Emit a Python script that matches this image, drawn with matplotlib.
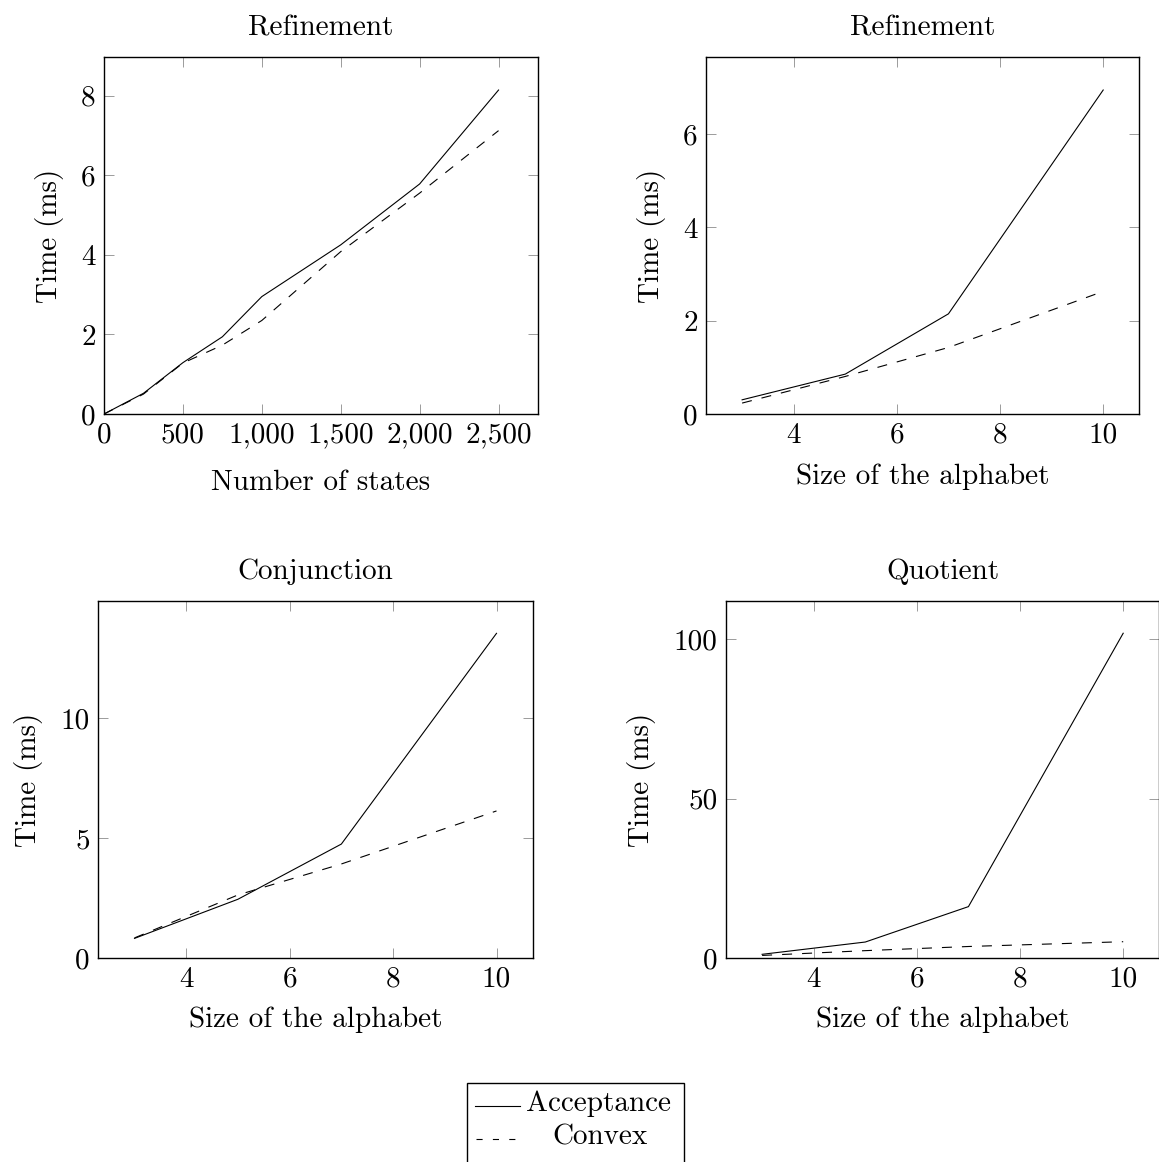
import matplotlib
matplotlib.use("Agg")
import matplotlib.pyplot as plt
from matplotlib.lines import Line2D
from matplotlib.patches import Rectangle

# ---- data ----
states = [0, 250, 500, 750, 1000, 1500, 2000, 2500]
ref_states_accept = [0, 0.52, 1.29, 1.94, 2.95, 4.25, 5.78, 8.14]
ref_states_convex = [0, 0.50, 1.28, 1.73, 2.35, 4.08, 5.55, 7.12]

alphabet = [3, 5, 7, 10]
ref_alpha_accept = [0.31, 0.86, 2.15, 6.94]
ref_alpha_convex = [0.24, 0.81, 1.43, 2.63]
conj_accept = [0.83, 2.46, 4.76, 13.54]
conj_convex = [0.85, 2.64, 3.93, 6.14]
quot_accept = [1.25, 5.1, 16.2, 101.9]
quot_convex = [0.9, 2.4, 3.7, 5.2]

titles = ["Refinement", "Refinement", "Conjunction", "Quotient"]
xlabels = ["Number of states", "Size of the alphabet", "Size of the alphabet", "Size of the alphabet"]
ylabel = "Time (ms)"
states_ticks = [0, 500, 1000, 1500, 2000, 2500]
states_ticklabels = ["0", "500", "1,000", "1,500", "2,000", "2,500"]
alpha_ticks = [4, 6, 8, 10]
legend_labels = ["Acceptance", "Convex"]

plt.rcParams["font.family"] = ["cmr10", "DejaVu Serif"]
plt.rcParams["axes.formatter.use_mathtext"] = True
plt.rcParams["lines.scale_dashes"] = False
FS = 21

W, H = 1159, 1162
fig = plt.figure(figsize=(W / 100, H / 100), dpi=100)


def px_rect(left, right, top, bottom):
    return [left / W, 1 - bottom / H, (right - left) / W, (bottom - top) / H]


axes = [
    fig.add_axes(px_rect(104, 538, 57, 414)),
    fig.add_axes(px_rect(706, 1139.3, 57.3, 414.3)),
    fig.add_axes(px_rect(98.3, 532.7, 600.7, 958.3)),
    fig.add_axes(px_rect(726, 1159.3, 600.7, 958.3)),
]

series = [
    (states, ref_states_accept, ref_states_convex),
    (alphabet, ref_alpha_accept, ref_alpha_convex),
    (alphabet, conj_accept, conj_convex),
    (alphabet, quot_accept, quot_convex),
]
ylims = [(0, 8.97), (0, 7.64), (0, 14.9), (0, 112.1)]
yticks = [[0, 2, 4, 6, 8], [0, 2, 4, 6], [0, 5, 10], [0, 50, 100]]
xlabelpads = [15, 10.5, 10, 10]

dash = (0, (7.2, 7.2))

for i, ax in enumerate(axes):
    xs, acc, conv = series[i]
    ax.plot(xs, acc, color="black", lw=0.8, solid_joinstyle="miter")
    ax.plot(xs, conv, color="black", lw=0.8, linestyle=dash)
    if i == 0:
        ax.set_xlim(0, 2750)
        ax.set_xticks(states_ticks)
        ax.set_xticklabels(states_ticklabels)
    else:
        ax.set_xlim(2.3, 10.7)
        ax.set_xticks(alpha_ticks)
        ax.set_xticklabels([str(t) for t in alpha_ticks])
    ax.set_ylim(*ylims[i])
    ax.set_yticks(yticks[i])
    ax.set_yticklabels([str(t) for t in yticks[i]])
    ax.tick_params(direction="in", length=7.5, width=0.6, color="0.55",
                   top=True, right=True, labelsize=FS)
    ax.tick_params(axis="x", pad=6)
    ax.tick_params(axis="y", pad=6)
    for sp in ax.spines.values():
        sp.set_linewidth(1.0)
    ax.set_title(titles[i], fontsize=FS, pad=15.5)
    ax.set_xlabel(xlabels[i], fontsize=FS, labelpad=xlabelpads[i])
    ax.set_ylabel(ylabel, fontsize=FS, labelpad=12.5)

# ---- legend (pgfplots style, centred entries) ----
def fx(x):
    return x / W


def fy(y):
    return 1 - y / H


fig.add_artist(Rectangle((fx(466.7), fy(1175)), fx(684) - fx(466.7), fy(1082.7) - fy(1175),
                         transform=fig.transFigure, fill=False, edgecolor="black", lw=1.0))
fig.add_artist(Line2D([fx(475), fx(520)], [fy(1106), fy(1106)], transform=fig.transFigure,
                      color="black", lw=0.8))
fig.add_artist(Line2D([fx(475.7), fx(515.5)], [fy(1139), fy(1139)], transform=fig.transFigure,
                      color="black", lw=0.8, linestyle=(0, (4.4, 7.4))))
fig.text(fx(599), fy(1104), legend_labels[0], ha="center", va="center", fontsize=FS)
fig.text(fx(600), fy(1137), legend_labels[1], ha="center", va="center", fontsize=FS)

fig.savefig("out.png", dpi=100)
